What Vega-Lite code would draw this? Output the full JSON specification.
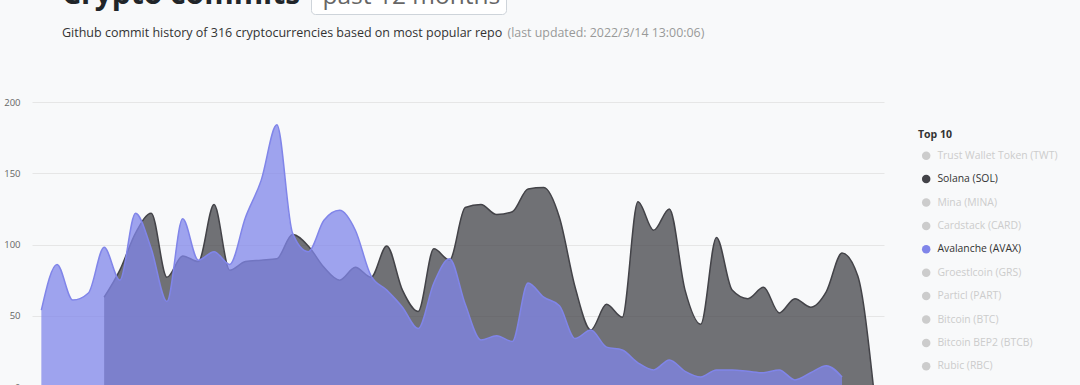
{
  "$schema": "https://vega.github.io/schema/vega-lite/v6.json",
  "width": 852,
  "height": 285,
  "autosize": "none",
  "padding": {"left": 32, "top": 102, "right": 196, "bottom": 0},
  "background": "#f8f9fa",
  "title": {
    "text": "Crypto commits",
    "subtitle": "Github commit history of 316 cryptocurrencies based on most popular repo",
    "anchor": "start",
    "frame": "group",
    "orient": "top",
    "dx": 30,
    "offset": -59.5,
    "font": "Open Sans",
    "fontSize": 30,
    "fontWeight": "bold",
    "color": "#212529",
    "subtitleFont": "Open Sans",
    "subtitleFontSize": 12.5,
    "subtitleColor": "#333333",
    "subtitlePadding": 17
  },
  "data": {
    "values": [
      {"week": "2021-03-07", "coin": "Avalanche (AVAX)", "commits": 54},
      {"week": "2021-03-14", "coin": "Avalanche (AVAX)", "commits": 86},
      {"week": "2021-03-21", "coin": "Avalanche (AVAX)", "commits": 61},
      {"week": "2021-03-28", "coin": "Avalanche (AVAX)", "commits": 66},
      {"week": "2021-04-04", "coin": "Avalanche (AVAX)", "commits": 98},
      {"week": "2021-04-11", "coin": "Avalanche (AVAX)", "commits": 75},
      {"week": "2021-04-18", "coin": "Avalanche (AVAX)", "commits": 122},
      {"week": "2021-04-25", "coin": "Avalanche (AVAX)", "commits": 97},
      {"week": "2021-05-02", "coin": "Avalanche (AVAX)", "commits": 60},
      {"week": "2021-05-09", "coin": "Avalanche (AVAX)", "commits": 118},
      {"week": "2021-05-16", "coin": "Avalanche (AVAX)", "commits": 89},
      {"week": "2021-05-23", "coin": "Avalanche (AVAX)", "commits": 95},
      {"week": "2021-05-30", "coin": "Avalanche (AVAX)", "commits": 86},
      {"week": "2021-06-06", "coin": "Avalanche (AVAX)", "commits": 119},
      {"week": "2021-06-13", "coin": "Avalanche (AVAX)", "commits": 145},
      {"week": "2021-06-20", "coin": "Avalanche (AVAX)", "commits": 184},
      {"week": "2021-06-27", "coin": "Avalanche (AVAX)", "commits": 108},
      {"week": "2021-07-04", "coin": "Avalanche (AVAX)", "commits": 95},
      {"week": "2021-07-11", "coin": "Avalanche (AVAX)", "commits": 117},
      {"week": "2021-07-18", "coin": "Avalanche (AVAX)", "commits": 124},
      {"week": "2021-07-25", "coin": "Avalanche (AVAX)", "commits": 110},
      {"week": "2021-08-01", "coin": "Avalanche (AVAX)", "commits": 78},
      {"week": "2021-08-08", "coin": "Avalanche (AVAX)", "commits": 68},
      {"week": "2021-08-15", "coin": "Avalanche (AVAX)", "commits": 56},
      {"week": "2021-08-22", "coin": "Avalanche (AVAX)", "commits": 41},
      {"week": "2021-08-29", "coin": "Avalanche (AVAX)", "commits": 73},
      {"week": "2021-09-05", "coin": "Avalanche (AVAX)", "commits": 90},
      {"week": "2021-09-12", "coin": "Avalanche (AVAX)", "commits": 58},
      {"week": "2021-09-19", "coin": "Avalanche (AVAX)", "commits": 33},
      {"week": "2021-09-26", "coin": "Avalanche (AVAX)", "commits": 36},
      {"week": "2021-10-03", "coin": "Avalanche (AVAX)", "commits": 32},
      {"week": "2021-10-10", "coin": "Avalanche (AVAX)", "commits": 73},
      {"week": "2021-10-17", "coin": "Avalanche (AVAX)", "commits": 63},
      {"week": "2021-10-24", "coin": "Avalanche (AVAX)", "commits": 57},
      {"week": "2021-10-31", "coin": "Avalanche (AVAX)", "commits": 34},
      {"week": "2021-11-07", "coin": "Avalanche (AVAX)", "commits": 40},
      {"week": "2021-11-14", "coin": "Avalanche (AVAX)", "commits": 28},
      {"week": "2021-11-21", "coin": "Avalanche (AVAX)", "commits": 26},
      {"week": "2021-11-28", "coin": "Avalanche (AVAX)", "commits": 17},
      {"week": "2021-12-05", "coin": "Avalanche (AVAX)", "commits": 12},
      {"week": "2021-12-12", "coin": "Avalanche (AVAX)", "commits": 19},
      {"week": "2021-12-19", "coin": "Avalanche (AVAX)", "commits": 11},
      {"week": "2021-12-26", "coin": "Avalanche (AVAX)", "commits": 7},
      {"week": "2022-01-02", "coin": "Avalanche (AVAX)", "commits": 12},
      {"week": "2022-01-09", "coin": "Avalanche (AVAX)", "commits": 12},
      {"week": "2022-01-16", "coin": "Avalanche (AVAX)", "commits": 11},
      {"week": "2022-01-23", "coin": "Avalanche (AVAX)", "commits": 10},
      {"week": "2022-01-30", "coin": "Avalanche (AVAX)", "commits": 12},
      {"week": "2022-02-06", "coin": "Avalanche (AVAX)", "commits": 5},
      {"week": "2022-02-13", "coin": "Avalanche (AVAX)", "commits": 10},
      {"week": "2022-02-20", "coin": "Avalanche (AVAX)", "commits": 15},
      {"week": "2022-02-27", "coin": "Avalanche (AVAX)", "commits": 7},
      {"week": "2021-04-04", "coin": "Solana (SOL)", "commits": 63},
      {"week": "2021-04-11", "coin": "Solana (SOL)", "commits": 82},
      {"week": "2021-04-18", "coin": "Solana (SOL)", "commits": 108},
      {"week": "2021-04-25", "coin": "Solana (SOL)", "commits": 122},
      {"week": "2021-05-02", "coin": "Solana (SOL)", "commits": 77},
      {"week": "2021-05-09", "coin": "Solana (SOL)", "commits": 92},
      {"week": "2021-05-16", "coin": "Solana (SOL)", "commits": 88},
      {"week": "2021-05-23", "coin": "Solana (SOL)", "commits": 128},
      {"week": "2021-05-30", "coin": "Solana (SOL)", "commits": 82},
      {"week": "2021-06-06", "coin": "Solana (SOL)", "commits": 88},
      {"week": "2021-06-13", "coin": "Solana (SOL)", "commits": 89},
      {"week": "2021-06-20", "coin": "Solana (SOL)", "commits": 90},
      {"week": "2021-06-27", "coin": "Solana (SOL)", "commits": 107},
      {"week": "2021-07-04", "coin": "Solana (SOL)", "commits": 99},
      {"week": "2021-07-11", "coin": "Solana (SOL)", "commits": 84},
      {"week": "2021-07-18", "coin": "Solana (SOL)", "commits": 75},
      {"week": "2021-07-25", "coin": "Solana (SOL)", "commits": 84},
      {"week": "2021-08-01", "coin": "Solana (SOL)", "commits": 77},
      {"week": "2021-08-08", "coin": "Solana (SOL)", "commits": 99},
      {"week": "2021-08-15", "coin": "Solana (SOL)", "commits": 68},
      {"week": "2021-08-22", "coin": "Solana (SOL)", "commits": 53},
      {"week": "2021-08-29", "coin": "Solana (SOL)", "commits": 97},
      {"week": "2021-09-05", "coin": "Solana (SOL)", "commits": 89},
      {"week": "2021-09-12", "coin": "Solana (SOL)", "commits": 126},
      {"week": "2021-09-19", "coin": "Solana (SOL)", "commits": 128},
      {"week": "2021-09-26", "coin": "Solana (SOL)", "commits": 121},
      {"week": "2021-10-03", "coin": "Solana (SOL)", "commits": 123},
      {"week": "2021-10-10", "coin": "Solana (SOL)", "commits": 139},
      {"week": "2021-10-17", "coin": "Solana (SOL)", "commits": 140},
      {"week": "2021-10-24", "coin": "Solana (SOL)", "commits": 119},
      {"week": "2021-10-31", "coin": "Solana (SOL)", "commits": 70},
      {"week": "2021-11-07", "coin": "Solana (SOL)", "commits": 40},
      {"week": "2021-11-14", "coin": "Solana (SOL)", "commits": 58},
      {"week": "2021-11-21", "coin": "Solana (SOL)", "commits": 49},
      {"week": "2021-11-28", "coin": "Solana (SOL)", "commits": 130},
      {"week": "2021-12-05", "coin": "Solana (SOL)", "commits": 110},
      {"week": "2021-12-12", "coin": "Solana (SOL)", "commits": 125},
      {"week": "2021-12-19", "coin": "Solana (SOL)", "commits": 68},
      {"week": "2021-12-26", "coin": "Solana (SOL)", "commits": 44},
      {"week": "2022-01-02", "coin": "Solana (SOL)", "commits": 105},
      {"week": "2022-01-09", "coin": "Solana (SOL)", "commits": 68},
      {"week": "2022-01-16", "coin": "Solana (SOL)", "commits": 62},
      {"week": "2022-01-23", "coin": "Solana (SOL)", "commits": 70},
      {"week": "2022-01-30", "coin": "Solana (SOL)", "commits": 52},
      {"week": "2022-02-06", "coin": "Solana (SOL)", "commits": 62},
      {"week": "2022-02-13", "coin": "Solana (SOL)", "commits": 56},
      {"week": "2022-02-20", "coin": "Solana (SOL)", "commits": 67},
      {"week": "2022-02-27", "coin": "Solana (SOL)", "commits": 94},
      {"week": "2022-03-06", "coin": "Solana (SOL)", "commits": 78},
      {"week": "2022-03-13", "coin": "Solana (SOL)", "commits": 0}
    ]
  },
  "encoding": {
    "x": {
      "field": "week",
      "type": "temporal",
      "scale": {
        "domain": [
          {"year": 2021, "month": 3, "date": 2, "hours": 20, "utc": true},
          {"year": 2022, "month": 3, "date": 17, "hours": 17, "utc": true}
        ]
      },
      "axis": null
    },
    "y": {
      "field": "commits",
      "type": "quantitative",
      "scale": {"domain": [0, 200], "nice": false},
      "axis": {
        "values": [0, 50, 100, 150, 200],
        "grid": true,
        "gridColor": "#e6e6e6",
        "gridWidth": 1,
        "domain": false,
        "ticks": false,
        "labelPadding": 12,
        "labelFont": "Open Sans",
        "labelFontSize": 9.5,
        "labelColor": "#666666",
        "title": "(last updated: 2022/3/14 13:00:06)",
        "titleFont": "Open Sans",
        "titleFontSize": 12.4,
        "titleFontWeight": "normal",
        "titleColor": "#999999",
        "titleAngle": 0,
        "titleAlign": "left",
        "titleBaseline": "alphabetic",
        "titleX": 475,
        "titleY": -65.3
      }
    },
    "color": {
      "field": "coin",
      "type": "nominal",
      "scale": {
        "domain": [
          "Trust Wallet Token (TWT)",
          "Solana (SOL)",
          "Mina (MINA)",
          "Cardstack (CARD)",
          "Avalanche (AVAX)",
          "Groestlcoin (GRS)",
          "Particl (PART)",
          "Bitcoin (BTC)",
          "Bitcoin BEP2 (BTCB)",
          "Rubic (RBC)"
        ],
        "range": [
          "#cccccc", "#434348", "#cccccc", "#cccccc", "#8085e9",
          "#cccccc", "#cccccc", "#cccccc", "#cccccc", "#cccccc"
        ]
      },
      "legend": {
        "title": "Top 10",
        "orient": "none",
        "legendX": 886,
        "legendY": 28,
        "padding": 0,
        "titleFont": "Open Sans",
        "titleFontSize": 10.5,
        "titleFontWeight": "bold",
        "titleColor": "#333333",
        "titlePadding": 10,
        "symbolType": "circle",
        "symbolSize": 72,
        "symbolStrokeWidth": 0,
        "symbolOpacity": 1,
        "symbolOffset": 3,
        "labelOffset": 6,
        "labelFont": "Open Sans",
        "labelFontSize": 10.4,
        "labelColor": {
          "expr": "datum.value === 'Solana (SOL)' || datum.value === 'Avalanche (AVAX)' ? '#333333' : '#cccccc'"
        },
        "rowPadding": 12.4,
        "labelLimit": 200
      }
    }
  },
  "layer": [
    {
      "transform": [{"filter": "datum.coin === 'Solana (SOL)'"}],
      "mark": {
        "type": "area",
        "interpolate": "monotone",
        "fillOpacity": 0.75,
        "line": {"strokeWidth": 1.5}
      }
    },
    {
      "transform": [{"filter": "datum.coin === 'Avalanche (AVAX)'"}],
      "mark": {
        "type": "area",
        "interpolate": "monotone",
        "fillOpacity": 0.75,
        "line": {"strokeWidth": 1.5}
      }
    },
    {
      "transform": [{"filter": "false"}],
      "mark": {"type": "point", "opacity": 0},
      "encoding": {
        "shape": {
          "datum": "past 12 months",
          "legend": {
            "title": null,
            "orient": "none",
            "legendX": 279,
            "legendY": -122,
            "padding": 5,
            "fillColor": "#ffffff",
            "strokeColor": "#ced4da",
            "cornerRadius": 4,
            "symbolSize": 0,
            "symbolOpacity": 0,
            "symbolStrokeWidth": 0,
            "symbolOffset": 0,
            "labelOffset": -18,
            "labelFont": "Open Sans",
            "labelFontSize": 24.5,
            "labelColor": "#666666",
            "labelLimit": 400,
            "labelExpr": "datum.label + '\u00a0\u00a0\u00a0\u00a0'"
          }
        }
      }
    }
  ],
  "config": {
    "view": {"stroke": null}
  }
}
